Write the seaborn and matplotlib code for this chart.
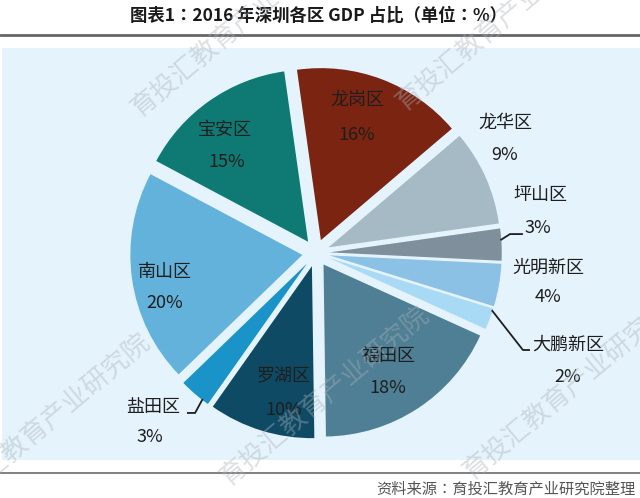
import matplotlib
matplotlib.use("Agg")
import matplotlib.pyplot as plt
import seaborn as sns
import numpy as np
from matplotlib.patches import Rectangle
from matplotlib.lines import Line2D

# ---------------- data ----------------
districts = ["龙岗区", "龙华区", "坪山区", "光明新区", "大鹏新区",
             "福田区", "罗湖区", "盐田区", "南山区", "宝安区"]
shares = [16, 9, 3, 4, 2, 18, 10, 3, 20, 15]
pct_labels = [f"{v}%" for v in shares]
slice_colors = ["#7b2412", "#a5bac5", "#808f9c", "#8bc1e5", "#a8daf5",
                "#4f7f94", "#0f4a64", "#1a94c8", "#63b2dc", "#0e7a73"]
title_text = "图表1：2016 年深圳各区 GDP 占比（单位：%）"
source_text = "资料来源：育投汇教育产业研究院整理"
watermark_text = "育投汇教育产业研究院"

# ---------------- layout (text positions in pie data units) ----------------
label_pos = {
    "龙岗区": ((0.238, 0.890), (0.238, 0.686)),
    "宝安区": ((-0.529, 0.715), (-0.517, 0.529)),
    "南山区": ((-0.878, -0.110), (-0.878, -0.291)),
    "罗湖区": ((-0.186, -0.715), (-0.186, -0.913)),
    "福田区": ((0.424, -0.599), (0.419, -0.785)),
    "龙华区": ((1.099, 0.756), (1.099, 0.570)),
    "坪山区": ((1.302, 0.337), (1.291, 0.145)),
    "光明新区": ((1.349, -0.087), (1.349, -0.256)),
    "大鹏新区": ((1.465, -0.535), (1.465, -0.721)),
    "盐田区": ((-0.948, -0.895), (-0.965, -1.070)),
}
# leader: (elbow, end) after the edge point on the wedge
leaders = {
    "坪山区": ((1.128, 0.110), (1.203, 0.110)),
    "大鹏新区": ((1.203, -0.564), (1.244, -0.564)),
    "盐田区": ((-0.703, -0.930), (-0.750, -0.930)),
}
leader_angle_shift = {"坪山区": 1.5, "大鹏新区": 3.0, "盐田区": 3.0}

sns.set_style("white")
plt.rcParams['font.family'] = ['Noto Sans CJK SC', 'DejaVu Sans']
TC = ['Noto Sans CJK TC', 'DejaVu Sans']

W, H = 640, 498
fig = plt.figure(figsize=(6.4, 4.98), dpi=100)
fig.patch.set_facecolor("white")

# background box & rules
fig.patches.append(Rectangle((2 / W, 1 - 460 / H), 638 / W, (460 - 48) / H,
                             transform=fig.transFigure, facecolor="#e5f3fd",
                             edgecolor="none", zorder=-5))
fig.lines.append(Line2D([0, 1], [1 - 35 / H, 1 - 35 / H], transform=fig.transFigure,
                        color="#666666", lw=2.0))
fig.lines.append(Line2D([0, 1], [1 - 473 / H, 1 - 473 / H], transform=fig.transFigure,
                        color="#777777", lw=1.3))

fig.text(318 / W, 1 - 16 / H, title_text, ha="center", va="center",
         fontsize=12.5, fontweight="bold", color="#1a1a1a", family=TC)
fig.text(636 / W, 1 - 489 / H, source_text, ha="right", va="center",
         fontsize=11, color="#555555", family=TC)

# pie
r_px = 172
cx, cy = 316, 253
lim = 1.25
side = 2 * lim * r_px
ax = fig.add_axes([(cx - side / 2) / W, (H - cy - side / 2) / H, side / W, side / H])
ax.set_facecolor("none")
palette = sns.color_palette(slice_colors)
wedges, _ = ax.pie(shares, colors=palette, startangle=98, counterclock=False,
                   explode=[0.08] * len(shares), radius=1.0,
                   wedgeprops=dict(linewidth=0))
ax.set_xlim(-lim, lim)
ax.set_ylim(-lim, lim)
ax.set_aspect("equal")
ax.axis("off")

for name, pct, w in zip(districts, pct_labels, wedges):
    (nx, ny), (px, py) = label_pos[name]
    ax.text(nx, ny, name, ha="center", va="center", fontsize=13, color="#1e1e1e")
    ax.text(px, py, pct, ha="center", va="center", fontsize=13, color="#1e1e1e")
    if name in leaders:
        mid = np.deg2rad((w.theta1 + w.theta2) / 2 + leader_angle_shift[name])
        wx, wy = w.center
        ex, ey = wx + 0.995 * np.cos(mid), wy + 0.995 * np.sin(mid)
        (bx, by), (tx, ty) = leaders[name]
        ax.plot([ex, bx, tx], [ey, by, ty], color="#1e1e1e", lw=1.3,
                solid_capstyle="butt", clip_on=False)

# watermarks
wm_anchors = [(135, 112), (400, 106), (-55, 508), (224, 481), (467, 475)]
for (x, y) in wm_anchors:
    fig.text(x / W, 1 - y / H, watermark_text, rotation=40, rotation_mode="anchor",
             ha="left", va="center", fontsize=19, color="#aab2ba", alpha=0.4,
             zorder=10)

fig.savefig("out.png", dpi=100)
